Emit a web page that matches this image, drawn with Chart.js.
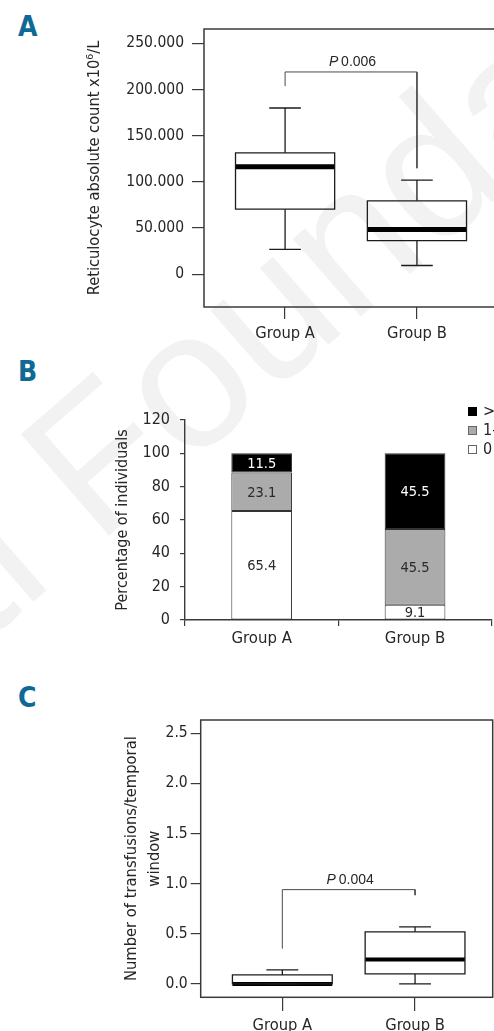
<!DOCTYPE html>
<html>
<head>
<meta charset="utf-8">
<script src="https://cdn.jsdelivr.net/npm/chart.js@4.4.1/dist/chart.umd.min.js"></script>
<style>
  html, body { margin: 0; padding: 0; background: #fff; }
  body { width: 494px; height: 1031px; overflow: hidden; position: relative; }
  .tag { position: absolute; font-family: 'DejaVu Sans Condensed', sans-serif;
         font-weight: bold; font-size: 28px; line-height: 1; color: #0f6996; }
  canvas { position: absolute; left: 0; }
  .mark { position: absolute; left: 97px; top: 546px; transform-origin: 0 0; transform: rotate(-41deg); }
  .mark span { position: absolute; top: -0.8465em; white-space: nowrap; line-height: 1;
               font-family: 'Liberation Sans', Arial, sans-serif; font-size: 195px; color: #f2f2f2; }
  .mark .pre { right: 0; }
  .mark .post { left: 0; }
</style>
</head>
<body>
<div class="mark"><span class="pre">Ferrata Storti&nbsp;</span><span class="post">Foundation</span></div>
<div class="tag" style="left:18px;top:13px">A</div>
<div class="tag" style="left:18px;top:358px">B</div>
<div class="tag" style="left:18px;top:684px">C</div>
<canvas id="chartA" width="520" height="350" style="top:0"></canvas>
<canvas id="chartB" width="520" height="300" style="top:350px"></canvas>
<canvas id="chartC" width="520" height="400" style="top:660px"></canvas>
<script>
// ---- shared ----
const groups = ['Group A', 'Group B'];

// ---- A: reticulocyte absolute count (box plot summaries) ----
const retMin = [27000, 9500];
const retQ1 = [70500, 36500];
const retMedian = [116500, 48500];
const retQ3 = [131500, 79500];
const retMax = [180000, 102000];
const retTicks = [0, 50000, 100000, 150000, 200000, 250000];
const retTickLabels = ['0', '50.000', '100.000', '150.000', '200.000', '250.000'];
const retPValue = '0.006';
const retBracket = [204000, 219000, 115000];   // left foot, bar height, right foot
const retPLabelAt = 230000;

// ---- B: share of individuals by number of transfusions ----
const transfusionClasses = ['0', '1-5', '>5'];
const shareNone = [65.4, 9.1];
const shareOneToFive = [23.1, 45.5];
const shareOverFive = [11.5, 45.5];
const shareTicks = [0, 20, 40, 60, 80, 100, 120];

// ---- C: transfusions per temporal window (box plot summaries) ----
const trMin = [0, 0];
const trQ1 = [0, 0.10];
const trMedian = [0, 0.245];
const trQ3 = [0.09, 0.52];
const trMax = [0.14, 0.57];
const trTicks = [0, 0.5, 1.0, 1.5, 2.0, 2.5];
const trTickLabels = ['0.0', '0.5', '1.0', '1.5', '2.0', '2.5'];
const trPValue = '0.004';
const trBracket = [0.356, 0.941, 0.888];
const trPLabelAt = 1.04;

// ---- styling ----
const NARROW = "'DejaVu Sans Condensed', sans-serif";
const REGULAR = "'Liberation Sans', Arial, sans-serif";
const TXT = '#262626';
const LINE = '#1c1c1c';
const AXIS = '#3a3a3a';
const BOX_HALF = 0.376;
const CAP_HALF = 0.12;

Chart.defaults.font.family = NARROW;
Chart.defaults.color = TXT;
Chart.defaults.animation = false;

// frame around the plotting area
const framePlugin = {
  id: 'frame',
  afterDatasetsDraw(chart, args, opts) {
    if (!opts.show) return;
    const { ctx, chartArea: a } = chart;
    ctx.save();
    ctx.strokeStyle = AXIS;
    ctx.lineWidth = 1.5;
    ctx.strokeRect(a.left, a.top, a.right - a.left, a.bottom - a.top);
    ctx.restore();
  }
};

// "P value" caption over the comparison bracket
const pLabelPlugin = {
  id: 'pLabel',
  afterDatasetsDraw(chart, args, opts) {
    if (!opts.text) return;
    const { ctx, scales } = chart;
    const x = scales.x.getPixelForValue(1.5) + 2;
    const y = scales.y.getPixelForValue(opts.at);
    ctx.save();
    ctx.fillStyle = TXT;
    ctx.textBaseline = 'middle';
    ctx.font = 'italic 14px ' + REGULAR;
    const wP = ctx.measureText('P').width;
    ctx.font = '14px ' + REGULAR;
    const rest = ' ' + opts.text;
    const wR = ctx.measureText(rest).width;
    const x0 = x - (wP + wR) / 2;
    ctx.font = 'italic 14px ' + REGULAR;
    ctx.fillText('P', x0, y);
    ctx.font = '14px ' + REGULAR;
    ctx.fillText(rest, x0 + wP - 1, y);
    ctx.restore();
  }
};

function boxDatasets(mins, q1, med, q3, maxs, bracket, medianWidth) {
  const box = [], whisk = [], mid = [];
  groups.forEach((g, i) => {
    const c = i + 1;
    box.push({ x: c - BOX_HALF, y: q1[i] }, { x: c + BOX_HALF, y: q1[i] },
             { x: c + BOX_HALF, y: q3[i] }, { x: c - BOX_HALF, y: q3[i] },
             { x: c - BOX_HALF, y: q1[i] }, { x: c, y: null });
    whisk.push({ x: c, y: q3[i] }, { x: c, y: maxs[i] }, { x: c, y: null },
               { x: c - CAP_HALF, y: maxs[i] }, { x: c + CAP_HALF, y: maxs[i] }, { x: c, y: null },
               { x: c, y: q1[i] }, { x: c, y: mins[i] }, { x: c, y: null },
               { x: c - CAP_HALF, y: mins[i] }, { x: c + CAP_HALF, y: mins[i] }, { x: c, y: null });
    mid.push({ x: c - BOX_HALF, y: med[i] }, { x: c + BOX_HALF, y: med[i] }, { x: c, y: null });
  });
  const br = [{ x: 1, y: bracket[0] }, { x: 1, y: bracket[1] }, { x: 2, y: bracket[1] }, { x: 2, y: bracket[2] }];
  const line = { showLine: true, pointRadius: 0, fill: false, spanGaps: false, tension: 0,
                 borderCapStyle: 'square', borderJoinStyle: 'miter' };
  return [
    Object.assign({ label: 'bracket', data: br, borderColor: '#4a4a4a', borderWidth: 1 }, line),
    Object.assign({ label: 'box', data: box, borderColor: LINE, borderWidth: 1.3 }, line),
    Object.assign({ label: 'whiskers', data: whisk, borderColor: LINE, borderWidth: 1.3 }, line, { borderCapStyle: 'butt' }),
    Object.assign({ label: 'median', data: mid, borderColor: '#000', borderWidth: medianWidth }, line, { borderCapStyle: 'butt' })
  ];
}

function boxChart(id, cfg) {
  return new Chart(document.getElementById(id), {
    type: 'scatter',
    data: { datasets: boxDatasets(cfg.min, cfg.q1, cfg.med, cfg.q3, cfg.max, cfg.bracket, cfg.medianWidth) },
    plugins: [framePlugin, pLabelPlugin],
    options: {
      responsive: false,
      layout: { padding: cfg.padding },
      plugins: {
        legend: { display: false },
        tooltip: { enabled: false },
        frame: { show: true },
        pLabel: { text: cfg.pValue, at: cfg.pAt }
      },
      scales: {
        x: {
          type: 'linear', min: 0.385, max: cfg.xMax,
          afterBuildTicks: s => { s.ticks = groups.map((g, i) => ({ value: i + 1 })); },
          ticks: { callback: (v, i) => groups[i], font: { size: 16.4 }, color: TXT, padding: cfg.xPad,
                   autoSkip: false, maxRotation: 0 },
          grid: { drawOnChartArea: false, drawTicks: true, tickLength: cfg.xTick, color: AXIS, lineWidth: 1.2 },
          border: { display: false },
          afterFit: s => { s.height = cfg.xHeight; }
        },
        y: {
          type: 'linear', min: cfg.yMin, max: cfg.yMax,
          afterBuildTicks: s => { s.ticks = cfg.ticks.map(v => ({ value: v })); },
          ticks: { callback: (v, i) => cfg.tickLabels[i], font: { size: cfg.yFont }, color: TXT, padding: cfg.yPad },
          grid: { drawOnChartArea: false, drawTicks: true, tickLength: cfg.yTick, color: AXIS, lineWidth: 1.2 },
          border: { display: false },
          title: { display: true, text: cfg.title, font: { size: cfg.titleFont, lineHeight: cfg.titleLH }, color: TXT, padding: 0 },
          afterFit: s => { s.width = cfg.yWidth; }
        }
      }
    }
  });
}

// ---- A ----
boxChart('chartA', {
  min: retMin, q1: retQ1, med: retMedian, q3: retQ3, max: retMax,
  bracket: retBracket, pValue: retPValue, pAt: retPLabelAt, medianWidth: 5,
  ticks: retTicks, tickLabels: retTickLabels,
  yMin: -35400, yMax: 265500, xMax: 2.592,
  padding: { left: 85, top: 29, right: 25, bottom: 0 },
  yWidth: 119, xHeight: 43, xTick: 12, xPad: 5, yTick: 12, yPad: 8, yFont: 15.5,
  title: 'Reticulocyte absolute count x10⁶/L', titleFont: 16.3, titleLH: 1.23
});

// ---- C ----
boxChart('chartC', {
  min: trMin, q1: trQ1, med: trMedian, q3: trQ3, max: trMax,
  bracket: trBracket, pValue: trPValue, pAt: trPLabelAt, medianWidth: 4,
  ticks: trTicks, tickLabels: trTickLabels,
  yMin: -0.133, yMax: 2.633, xMax: 2.585,
  padding: { left: 120, top: 60, right: 27.3, bottom: 0 },
  yWidth: 80.7, xHeight: 62.7, xTick: 13.7, xPad: 5, yTick: 10, yPad: 3, yFont: 15.5,
  title: ['Number of transfusions/temporal', 'window'], titleFont: 16.4, titleLH: 1.42
});

// ---- B ----
const barLabelPlugin = {
  id: 'barLabels',
  afterDatasetsDraw(chart) {
    const { ctx } = chart;
    ctx.save();
    ctx.font = '14.5px ' + NARROW;
    ctx.textAlign = 'center';
    ctx.textBaseline = 'middle';
    chart.data.datasets.forEach((ds, di) => {
      chart.getDatasetMeta(di).data.forEach((el, i) => {
        const p = el.getProps(['x', 'y', 'base'], true);
        ctx.fillStyle = ds.labelColor;
        ctx.fillText(ds.data[i].toFixed(1), p.x, (p.y + p.base) / 2 + 1);
      });
    });
    ctx.restore();
  }
};

const squareLegendPlugin = {
  id: 'squareLegend',
  afterDraw(chart, args, opts) {
    const { ctx } = chart;
    const items = chart.data.datasets.slice().reverse();
    ctx.save();
    ctx.font = '16px ' + NARROW;
    ctx.textBaseline = 'middle';
    items.forEach((ds, k) => {
      const y = opts.top + k * opts.step;
      ctx.fillStyle = ds.backgroundColor;
      ctx.fillRect(opts.left, y, 9, 9);
      ctx.strokeStyle = ds.legendBorder;
      ctx.lineWidth = 1;
      ctx.strokeRect(opts.left + 0.5, y + 0.5, 8, 8);
      ctx.fillStyle = TXT;
      ctx.fillText(ds.label, opts.left + 15, y + 5);
    });
    ctx.restore();
  }
};

const barStyle = { borderColor: '#333', borderWidth: 1, borderSkipped: false, barPercentage: 0.396, categoryPercentage: 1 };
new Chart(document.getElementById('chartB'), {
  type: 'bar',
  data: {
    labels: groups,
    datasets: [
      Object.assign({ label: transfusionClasses[0], data: shareNone, backgroundColor: '#ffffff', labelColor: '#2a2a2a', legendBorder: '#666' }, barStyle),
      Object.assign({ label: transfusionClasses[1], data: shareOneToFive, backgroundColor: '#ababab', labelColor: '#2a2a2a', legendBorder: '#666' }, barStyle),
      Object.assign({ label: transfusionClasses[2], data: shareOverFive, backgroundColor: '#000000', labelColor: '#ffffff', legendBorder: '#000' }, barStyle)
    ]
  },
  plugins: [barLabelPlugin, squareLegendPlugin],
  options: {
    responsive: false,
    layout: { padding: { left: 113.2, top: 70, right: 28.3, bottom: 0 } },
    plugins: {
      legend: { display: false },
      tooltip: { enabled: false },
      squareLegend: { left: 468, top: 57, step: 19 }
    },
    scales: {
      x: {
        stacked: true,
        ticks: { font: { size: 16.6 }, color: TXT, padding: 3, maxRotation: 0 },
        grid: { drawOnChartArea: false, drawTicks: true, tickLength: 6, color: AXIS, lineWidth: 1.2, offset: true },
        border: { display: true, color: AXIS, width: 1.4 },
        afterFit: s => { s.height = 30; }
      },
      y: {
        stacked: true, min: 0, max: 120,
        afterBuildTicks: s => { s.ticks = shareTicks.map(v => ({ value: v })); },
        ticks: { font: { size: 16 }, color: TXT, padding: 10 },
        grid: { drawOnChartArea: false, drawTicks: true, tickLength: 5, color: AXIS, lineWidth: 1.2 },
        border: { display: true, color: AXIS, width: 1.4 },
        title: { display: true, text: 'Percentage of individuals', font: { size: 16, lineHeight: 1.23 }, color: TXT, padding: 0 },
        afterFit: s => { s.width = 71.8; }
      }
    }
  }
});
</script>
</body>
</html>
